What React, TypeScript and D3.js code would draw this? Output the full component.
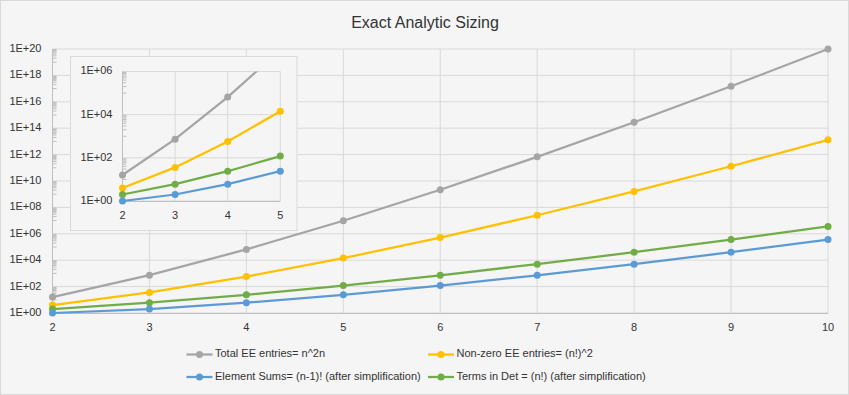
import React from "react";
import * as d3 from "d3";

const nValues = [2, 3, 4, 5, 6, 7, 8, 9, 10];
const totalEE = [16, 729, 65536, 9765625, 2176782336, 678223072849, 281474976710656, 150094635296999121, 1e20];
const nonZeroEE = [4, 36, 576, 14400, 518400, 25401600, 1625702400, 131681894400, 13168189440000];
const termsInDet = [2, 6, 24, 120, 720, 5040, 40320, 362880, 3628800];
const elementSums = [1, 2, 6, 24, 120, 720, 5040, 40320, 362880];

const seriesNames = [
  "Total EE entries= n^2n",
  "Non-zero EE entries= (n!)^2",
  "Element Sums= (n-1)! (after simplification)",
  "Terms in Det = (n!) (after simplification)",
];
const seriesColors = ["#a5a5a5", "#ffc000", "#5b9bd5", "#70ad47"];
const seriesData = [totalEE, nonZeroEE, elementSums, termsInDet];
const drawOrder = [0, 1, 3, 2];

const mainExponents = [0, 2, 4, 6, 8, 10, 12, 14, 16, 18, 20];
const insetExponents = [0, 2, 4, 6];
const insetN = [2, 3, 4, 5];

const W = 849;
const H = 395;
const FONT = "'Liberation Sans', Arial, sans-serif";
const TEXT = "#333333";
const GRID = "#d9d9d9";
const AXIS = "#bfbfbf";
const BG = "#f5f5f5";

const fmt = (e: number) => `1E+${e < 10 ? "0" + e : e}`;

function LogAxis({ y, x0, exps }: { y: d3.ScaleLogarithmic<number, number>; x0: number; exps: number[] }) {
  const ticks: number[] = [];
  for (let i = 0; i < exps.length - 1; i++) {
    for (let j = 1; j <= 9; j++) ticks.push(j * Math.pow(10, exps[i] + 1));
  }
  return (
    <g>
      {ticks.map((t, i) => (
        <line key={i} x1={x0} x2={x0 + 4} y1={y(t)} y2={y(t)} stroke={AXIS} strokeWidth={1} />
      ))}
      <line x1={x0} x2={x0} y1={y(Math.pow(10, exps[exps.length - 1]))} y2={y(1)} stroke={AXIS} strokeWidth={1} />
    </g>
  );
}

export default function App() {
  const x = d3.scaleLinear().domain([2, 10]).range([52.5, 828]);
  const y = d3.scaleLog().domain([1, 1e20]).range([313, 49]);
  const ix = d3.scaleLinear().domain([2, 5]).range([122.5, 280.3]);
  const iy = d3.scaleLog().domain([1, 1e6]).range([201, 71.5]);

  const mainLine = d3
    .line<number>()
    .x((_, i) => x(nValues[i]))
    .y((d) => y(d));
  const insetLine = d3
    .line<number>()
    .x((_, i) => ix(insetN[i]))
    .y((d) => iy(d));

  const legendItems = [
    { s: 0, x: 186.5, y: 354.5 },
    { s: 1, x: 428, y: 354.5 },
    { s: 2, x: 186.5, y: 377 },
    { s: 3, x: 428, y: 377 },
  ];

  return (
    <>
      <style>{`body{margin:0;}`}</style>
      <svg width={W} height={H} style={{ display: "block", fontFamily: FONT }}>
        <defs>
          <clipPath id="insetClip">
            <rect x={ix(2) - 6} y={iy(1e6)} width={ix(5) - ix(2) + 12} height={iy(1) - iy(1e6) + 6} />
          </clipPath>
        </defs>
        <rect x={0.5} y={0.5} width={W - 1} height={H - 1} fill={BG} stroke={GRID} />
        <text x={425} y={24} textAnchor="middle" dominantBaseline="middle" fontSize={16} fill="#333333">
          Exact Analytic Sizing
        </text>

        {mainExponents.map((e) => (
          <line key={"h" + e} x1={52.5} x2={828} y1={y(Math.pow(10, e))} y2={y(Math.pow(10, e))} stroke={GRID} />
        ))}
        {nValues.map((n) => (
          <line key={"v" + n} x1={x(n)} x2={x(n)} y1={49} y2={313} stroke={GRID} />
        ))}
        <line x1={52.5} x2={828} y1={313.5} y2={313.5} stroke={AXIS} />
        <LogAxis y={y} x0={52.5} exps={mainExponents} />

        {mainExponents.map((e) => (
          <text key={"yl" + e} x={41.5} y={y(Math.pow(10, e))} textAnchor="end" dominantBaseline="middle" fontSize={11} fill={TEXT}>
            {fmt(e)}
          </text>
        ))}
        {nValues.map((n) => (
          <text key={"xl" + n} x={x(n)} y={328} textAnchor="middle" dominantBaseline="middle" fontSize={11} fill={TEXT}>
            {n}
          </text>
        ))}

        {drawOrder.map((s) => (
          <g key={"m" + s}>
            <path d={mainLine(seriesData[s]) || ""} fill="none" stroke={seriesColors[s]} strokeWidth={2.25} />
            {seriesData[s].map((v, i) => (
              <circle key={i} cx={x(nValues[i])} cy={y(v)} r={3.5} fill={seriesColors[s]} />
            ))}
          </g>
        ))}

        {/* inset */}
        <rect x={70.5} y={56.5} width={226.5} height={174} fill={BG} stroke={GRID} />
        {insetExponents.map((e) => (
          <line key={"ih" + e} x1={ix(2)} x2={ix(5)} y1={iy(Math.pow(10, e))} y2={iy(Math.pow(10, e))} stroke={GRID} />
        ))}
        {insetN.map((n) => (
          <line key={"iv" + n} x1={ix(n)} x2={ix(n)} y1={iy(1e6)} y2={iy(1)} stroke={GRID} />
        ))}
        <line x1={ix(2)} x2={ix(5)} y1={iy(1) + 0.5} y2={iy(1) + 0.5} stroke={AXIS} />
        <LogAxis y={iy} x0={ix(2)} exps={insetExponents} />
        {insetExponents.map((e) => (
          <text key={"iyl" + e} x={112.5} y={iy(Math.pow(10, e))} textAnchor="end" dominantBaseline="middle" fontSize={11} fill={TEXT}>
            {fmt(e)}
          </text>
        ))}
        {insetN.map((n) => (
          <text key={"ixl" + n} x={ix(n)} y={216.5} textAnchor="middle" dominantBaseline="middle" fontSize={11} fill={TEXT}>
            {n}
          </text>
        ))}
        {drawOrder.map((s) => {
          const vals = seriesData[s].slice(0, insetN.length);
          return (
            <g key={"i" + s}>
              <g clipPath="url(#insetClip)">
                <path d={insetLine(vals) || ""} fill="none" stroke={seriesColors[s]} strokeWidth={2.25} />
              </g>
              {vals.map((v, i) =>
                v <= 1e6 ? <circle key={i} cx={ix(insetN[i])} cy={iy(v)} r={3.5} fill={seriesColors[s]} /> : null
              )}
            </g>
          );
        })}

        {/* legend */}
        {legendItems.map((it) => (
          <g key={"lg" + it.s}>
            <line x1={it.x} x2={it.x + 26} y1={it.y} y2={it.y} stroke={seriesColors[it.s]} strokeWidth={2.25} />
            <circle cx={it.x + 13} cy={it.y} r={3.5} fill={seriesColors[it.s]} />
            <text x={it.x + 28.5} y={it.y} dominantBaseline="middle" fontSize={11} fill={TEXT}>
              {seriesNames[it.s]}
            </text>
          </g>
        ))}
      </svg>
    </>
  );
}
